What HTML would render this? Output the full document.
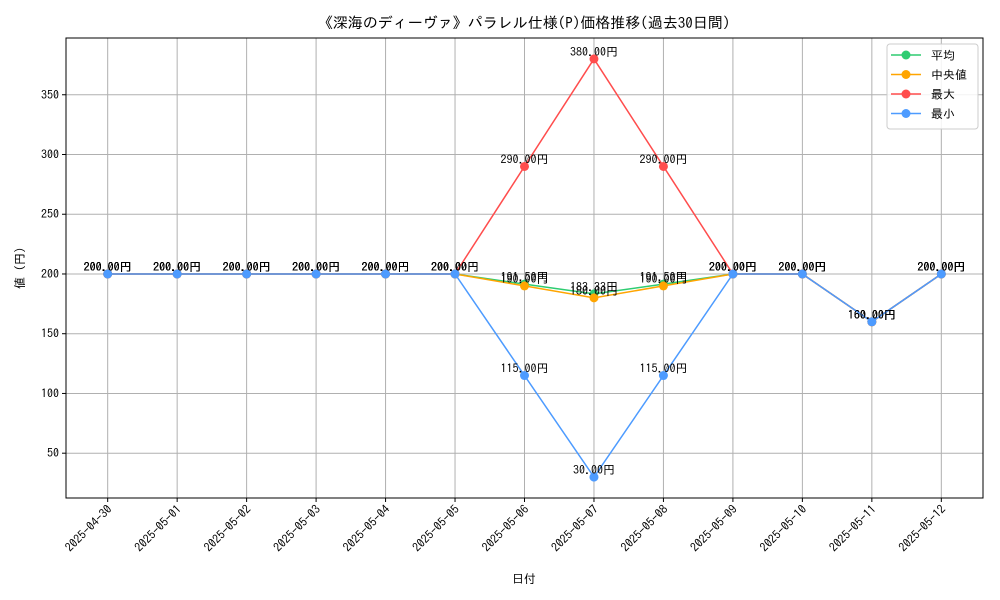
<!DOCTYPE html>
<html><head><meta charset="utf-8"><style>
body{margin:0;background:#fff;}
svg{display:block;font-family:"IPAGothic","Noto Sans CJK JP",monospace;}
</style></head><body>
<svg id="chart" width="1000" height="600">
<text x="524" y="28" font-size="15" text-anchor="middle">《深海のディーヴァ》パラレル仕様(P)価格推移(過去30日間)</text>
<g id="grid"></g>
<g id="series"></g>
<rect x="66" y="38" width="917" height="460" fill="none" stroke="#000" stroke-width="1"/>
<g id="axes"></g>
<text x="524" y="583" font-size="12" text-anchor="middle">日付</text>
<text x="24" y="268" font-size="12" text-anchor="middle" transform="rotate(-90 24 268)">値 (円)</text>
<g>
<rect x="887" y="44" width="91" height="85" rx="3" fill="#fff" fill-opacity="0.85" stroke="#ccc"/>
<g id="legend"></g>
</g>
</svg>
<script>
const categories=["2025-04-30","2025-05-01","2025-05-02","2025-05-03","2025-05-04","2025-05-05","2025-05-06","2025-05-07","2025-05-08","2025-05-09","2025-05-10","2025-05-11","2025-05-12"];
const meanValues=[200,200,200,200,200,200,191.5,183.33,191.5,200,200,160,200];
const medianValues=[200,200,200,200,200,200,190,180,190,200,200,160,200];
const maxValues=[200,200,200,200,200,200,290,380,290,200,200,160,200];
const minValues=[200,200,200,200,200,200,115,30,115,200,200,160,200];
const yTicks=[50,100,150,200,250,300,350];
const seriesNames=["平均","中央値","最大","最小"];
const seriesColors=["#2ecc71","#ffa500","#ff4d4d","#4d9bff"];
const NS="http://www.w3.org/2000/svg";
const L=66,R=983,T=38,B=498,ymin=12.5,ymax=397.5;
const n=categories.length;
const xs=i=>L+(R-L)*(i+0.6)/(n-1+1.2);
const ys=v=>B-(B-T)*(v-ymin)/(ymax-ymin);
function mk(tag,attrs,parent){const e=document.createElementNS(NS,tag);for(const k in attrs)e.setAttribute(k,attrs[k]);parent.appendChild(e);return e;}
const grid=document.getElementById('grid'),axes=document.getElementById('axes'),sg=document.getElementById('series'),lg=document.getElementById('legend');
categories.forEach((c,i)=>{
 const x=xs(i);
 const gl=mk('line',{x1:x,x2:x,y1:T,y2:B,stroke:'#b0b0b0','stroke-width':1},grid);
 
 
 const tk=mk('line',{x1:x,x2:x,y1:B,y2:B+4,stroke:'#000'},axes);
 
 
 const t=mk('text',{x:x+5,y:B+12,'font-size':12,'text-anchor':'end',transform:`rotate(-45 ${x+5} ${B+12})`},axes);
 t.textContent=c;
 
 
});
yTicks.forEach(v=>{
 const y=ys(v);
 const gl=mk('line',{x1:L,x2:R,y1:y,y2:y,stroke:'#b0b0b0','stroke-width':1},grid);
 
 
 const tk=mk('line',{x1:L-4,x2:L,y1:y,y2:y,stroke:'#000'},axes);
 
 
 const t=mk('text',{x:L-7,y:y+4,'font-size':12,'text-anchor':'end'},axes);
 t.textContent=v;
 
 
});
const all=[meanValues,medianValues,maxValues,minValues];
const keys=["mean","median","max","min"];
all.forEach((vals,s)=>{
 const g=mk('g',{},sg);
 
 
 const pl=mk('polyline',{points:vals.map((v,i)=>xs(i)+','+ys(v)).join(' '),fill:'none',stroke:seriesColors[s],'stroke-width':1.5},g);
 
 
 vals.forEach((v,i)=>{
  const c=mk('circle',{cx:xs(i),cy:ys(v),r:4.5,fill:seriesColors[s]},g);
  
  
  const t=mk('text',{x:xs(i),y:ys(v)-3,'font-size':12,'text-anchor':'middle'},g);
  t.textContent=v.toFixed(2)+'円';
  
  
 });
});
seriesNames.forEach((nm,s)=>{
 const y=55+s*19.5;
 const g=mk('g',{},lg);
 
 
 mk('line',{x1:891,x2:921,y1:y,y2:y,stroke:seriesColors[s],'stroke-width':1.5},g);
 mk('circle',{cx:906,cy:y,r:4.5,fill:seriesColors[s]},g);
 const t=mk('text',{x:931,y:y+4.5,'font-size':12},g);
 t.textContent=(s==1?' ':'')+nm;
});
</script>
</body></html>
